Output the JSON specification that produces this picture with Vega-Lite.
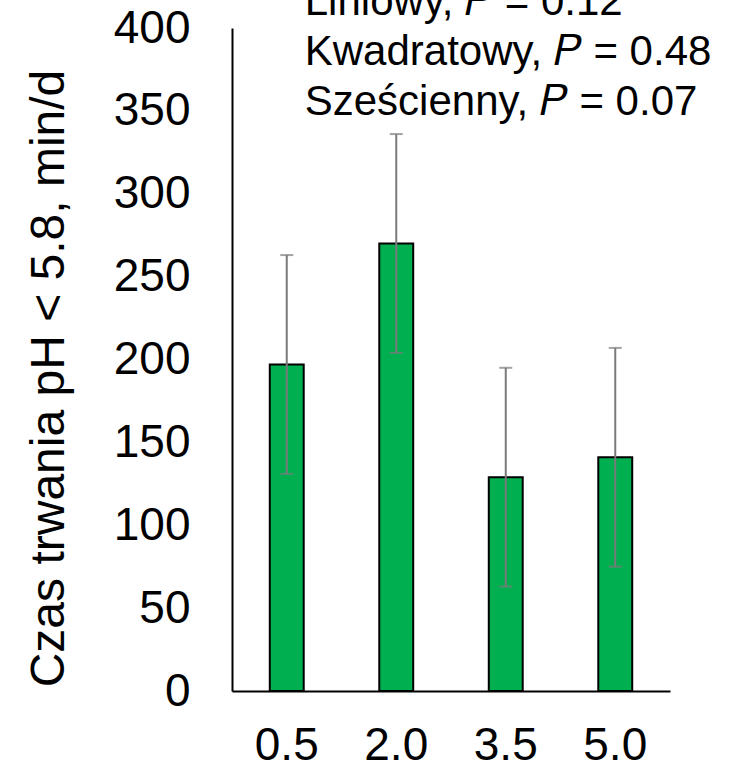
{
  "$schema": "https://vega.github.io/schema/vega-lite/v6.json",
  "width": 438,
  "height": 663,
  "autosize": {"type": "none"},
  "padding": {"left": 232, "top": 28, "right": 71, "bottom": 78},
  "config": {"view": {"stroke": null}, "font": "Liberation Sans"},
  "datasets": {
    "dose": [
      {"dose": "0.5", "mean": 197, "se": 66},
      {"dose": "2.0", "mean": 270, "se": 66},
      {"dose": "3.5", "mean": 129, "se": 66},
      {"dose": "5.0", "mean": 141, "se": 66}
    ],
    "models": [
      {"model": "Liniowy", "label": "Liniowy, 𝑃 = 0.12"},
      {"model": "Kwadratowy", "label": "Kwadratowy, 𝑃 = 0.48"},
      {"model": "Sześcienny", "label": "Sześcienny, 𝑃 = 0.07"}
    ]
  },
  "layer": [
    {
      "layer": [
        {
          "data": {"name": "dose"},
          "mark": {"type": "bar", "fill": "#00B050", "stroke": "#000000", "strokeWidth": 2},
          "encoding": {
            "x": {
              "field": "dose",
              "type": "ordinal",
              "scale": {"paddingInner": 0.69, "paddingOuter": 0.345},
              "axis": {
                "title": null,
                "labelAngle": 0,
                "ticks": false,
                "labelFontSize": 46,
                "labelColor": "#000000",
                "labelPadding": 32,
                "domainColor": "#000000",
                "domainWidth": 2
              }
            },
            "y": {
              "field": "mean",
              "type": "quantitative",
              "scale": {"domain": [0, 400], "nice": false},
              "axis": {
                "title": "Czas trwania pH < 5.8, min/d",
                "values": [0, 50, 100, 150, 200, 250, 300, 350, 400],
                "grid": false,
                "ticks": false,
                "labelFontSize": 46,
                "labelColor": "#000000",
                "labelPadding": 42,
                "domainColor": "#000000",
                "domainWidth": 2,
                "titleFontSize": 48,
                "titleFontWeight": "normal",
                "titleColor": "#000000",
                "titlePadding": 40,
                "titleY": 350
              }
            }
          }
        },
        {
          "data": {"name": "dose"},
          "mark": {
            "type": "errorbar",
            "ticks": {"size": 13, "thickness": 2, "color": "#7a7a7a"},
            "rule": {"strokeWidth": 2, "color": "#7a7a7a"}
          },
          "encoding": {
            "x": {"field": "dose", "type": "ordinal"},
            "y": {"field": "mean", "type": "quantitative", "title": "Czas trwania pH < 5.8, min/d"},
            "yError": {"field": "se"}
          }
        }
      ]
    },
    {
      "data": {"name": "models"},
      "mark": {"type": "text", "align": "left", "baseline": "alphabetic", "fontSize": 42, "dx": 18, "color": "#000000"},
      "encoding": {
        "x": {"datum": "0.5", "type": "ordinal"},
        "y": {
          "field": "model",
          "type": "ordinal",
          "scale": {"type": "point", "domain": ["Liniowy", "Kwadratowy", "Sześcienny"], "range": [-13, 87], "padding": 0},
          "axis": null
        },
        "text": {"field": "label"}
      }
    }
  ],
  "resolve": {"scale": {"y": "independent"}}
}
